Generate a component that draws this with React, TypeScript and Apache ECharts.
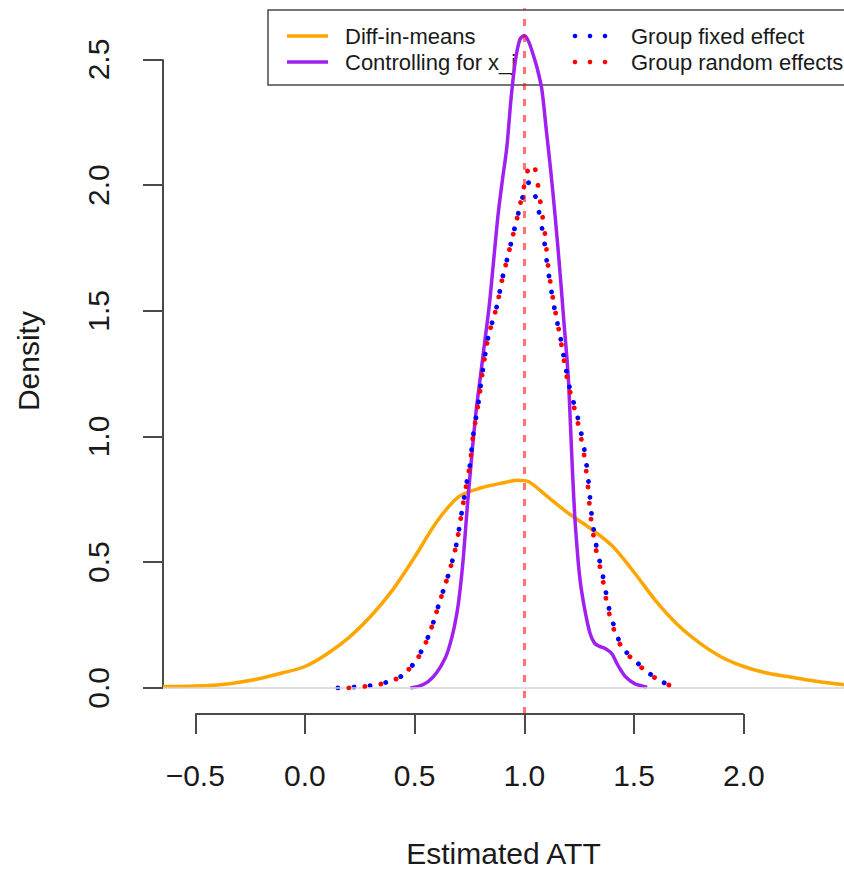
import React, { useEffect, useRef } from "react";
import * as echarts from "echarts";

// ---- data ----
const diffInMeans: [number, number][] = [
  [-0.647, 0.005], [-0.5, 0.007], [-0.4, 0.011], [-0.3, 0.022], [-0.2, 0.038], [-0.1, 0.06],
  [0.0, 0.085], [0.1, 0.135], [0.2, 0.2], [0.3, 0.285], [0.4, 0.39], [0.5, 0.52],
  [0.6, 0.66], [0.7, 0.76], [0.8, 0.795], [0.9, 0.815], [0.97, 0.826], [1.02, 0.82],
  [1.1, 0.765], [1.2, 0.695], [1.3, 0.635], [1.4, 0.565], [1.5, 0.46], [1.6, 0.345],
  [1.7, 0.25], [1.8, 0.178], [1.9, 0.122], [2.0, 0.085], [2.1, 0.06], [2.2, 0.045],
  [2.3, 0.03], [2.4, 0.018], [2.457, 0.012],
];

const controlling: [number, number][] = [
  [0.48, 0.0], [0.52, 0.007], [0.56, 0.024], [0.6, 0.06], [0.64, 0.12], [0.66, 0.17],
  [0.68, 0.24], [0.7, 0.34], [0.72, 0.5], [0.74, 0.72], [0.76, 0.92], [0.78, 1.1],
  [0.8, 1.24], [0.82, 1.38], [0.84, 1.52], [0.86, 1.7], [0.88, 1.88], [0.9, 2.02],
  [0.92, 2.15], [0.94, 2.35], [0.96, 2.5], [0.98, 2.58], [1.0, 2.595], [1.02, 2.57],
  [1.04, 2.52], [1.06, 2.46], [1.08, 2.38], [1.1, 2.22], [1.12, 2.06], [1.14, 1.88],
  [1.16, 1.68], [1.18, 1.46], [1.2, 1.24], [1.21, 1.05], [1.22, 0.85], [1.23, 0.68],
  [1.24, 0.56], [1.25, 0.46], [1.26, 0.39], [1.28, 0.29], [1.3, 0.215], [1.32, 0.178],
  [1.34, 0.166], [1.36, 0.16], [1.38, 0.15], [1.4, 0.135], [1.42, 0.1], [1.44, 0.07],
  [1.46, 0.045], [1.5, 0.018], [1.56, 0.002],
];

const fixedEffect: [number, number][] = [
  [0.15, 0.0], [0.2, 0.002], [0.25, 0.005], [0.3, 0.009], [0.35, 0.017], [0.4, 0.03],
  [0.44, 0.047], [0.49, 0.09], [0.53, 0.145], [0.56, 0.2], [0.585, 0.26], [0.606, 0.32],
  [0.63, 0.386], [0.652, 0.445], [0.67, 0.5], [0.69, 0.57], [0.715, 0.7], [0.738, 0.82],
  [0.752, 0.886], [0.766, 1.0], [0.79, 1.13], [0.81, 1.26], [0.834, 1.39], [0.852, 1.45],
  [0.875, 1.52], [0.9, 1.63], [0.92, 1.7], [0.945, 1.79], [0.97, 1.88], [0.995, 1.96],
  [1.02, 2.01], [1.045, 1.97], [1.065, 1.9], [1.09, 1.78], [1.105, 1.68], [1.135, 1.52],
  [1.165, 1.39], [1.205, 1.2], [1.245, 1.07], [1.275, 0.94], [1.295, 0.8], [1.305, 0.7],
  [1.327, 0.57], [1.358, 0.445], [1.385, 0.32], [1.405, 0.256], [1.427, 0.197],
  [1.462, 0.145], [1.517, 0.098], [1.567, 0.059], [1.63, 0.024], [1.67, 0.004],
];

const randomEffects: [number, number][] = [
  [0.2, 0.0], [0.25, 0.004], [0.3, 0.008], [0.35, 0.016], [0.4, 0.03], [0.44, 0.047],
  [0.49, 0.09], [0.533, 0.145], [0.56, 0.2], [0.585, 0.26], [0.606, 0.32], [0.63, 0.386],
  [0.652, 0.445], [0.67, 0.5], [0.69, 0.57], [0.715, 0.7], [0.738, 0.82], [0.752, 0.886],
  [0.766, 1.0], [0.79, 1.13], [0.81, 1.26], [0.834, 1.39], [0.852, 1.45], [0.875, 1.52],
  [0.9, 1.63], [0.92, 1.7], [0.945, 1.79], [0.97, 1.88], [0.995, 1.98], [1.02, 2.07],
  [1.04, 2.085], [1.058, 2.02], [1.075, 1.92], [1.095, 1.8], [1.108, 1.68], [1.13, 1.55],
  [1.16, 1.41], [1.2, 1.21], [1.24, 1.07], [1.27, 0.94], [1.29, 0.8], [1.3, 0.7],
  [1.322, 0.57], [1.354, 0.445], [1.38, 0.32], [1.4, 0.256], [1.422, 0.197],
  [1.458, 0.145], [1.513, 0.098], [1.563, 0.059], [1.627, 0.024], [1.67, 0.008], [1.72, 0.0],
];

const xTicks = [-0.5, 0, 0.5, 1, 1.5, 2];
const yTicks = [0, 0.5, 1, 1.5, 2, 2.5];
const legendLeft = ["Diff-in-means", "Controlling for x_j"];
const legendRight = ["Group fixed effect", "Group random effects"];

const X_MIN = -0.647;
const X_MAX = 2.457;
const Y_MIN = -0.104;
const Y_MAX = 2.704;

const FONT = "'Liberation Sans', Arial, Helvetica, sans-serif";
const AXIS_COLOR = "#4a4a4a";
const TEXT_COLOR = "#1a1a1a";

const COLORS = {
  orange: "#FFA500",
  purple: "#A020F0",
  blue: "#0000FF",
  red: "#FF0000",
};

function fmt(v: number): string {
  const s = Math.abs(v).toFixed(1);
  return v < 0 ? "\u2212" + s : s;
}

export default function App() {
  const ref = useRef<HTMLDivElement>(null);

  useEffect(() => {
    if (!ref.current) return;
    const chart = echarts.init(ref.current, null, { renderer: "svg" });

    const dotted = (color: string) => ({
      color,
      width: 4.8,
      type: [0.1, 16] as any,
      cap: "round" as any,
    });

    const legendGraphic: any[] = [
      {
        type: "rect",
        shape: { x: 268, y: 10, width: 620, height: 75 },
        style: { fill: "none", stroke: AXIS_COLOR, lineWidth: 1.5 },
        silent: true,
      },
      {
        type: "line",
        shape: { x1: 287, y1: 36, x2: 328, y2: 36 },
        style: { stroke: COLORS.orange, lineWidth: 3.5 },
      },
      {
        type: "line",
        shape: { x1: 287, y1: 62, x2: 328, y2: 62 },
        style: { stroke: COLORS.purple, lineWidth: 3.5 },
      },
      ...[575, 590, 605].map((cx) => ({
        type: "circle",
        shape: { cx, cy: 36, r: 2.3 },
        style: { fill: COLORS.blue },
      })),
      ...[575, 590, 605].map((cx) => ({
        type: "circle",
        shape: { cx, cy: 62, r: 2.3 },
        style: { fill: COLORS.red },
      })),
      ...legendLeft.map((t, i) => ({
        type: "text",
        x: 345,
        y: 36 + i * 26,
        style: {
          text: t,
          fill: TEXT_COLOR,
          font: `22px ${FONT}`,
          verticalAlign: "middle",
          align: "left",
        },
      })),
      ...legendRight.map((t, i) => ({
        type: "text",
        x: 631,
        y: 36 + i * 26,
        style: {
          text: t,
          fill: TEXT_COLOR,
          font: `22px ${FONT}`,
          verticalAlign: "middle",
          align: "left",
        },
      })),
    ];

    chart.setOption({
      animation: false,
      backgroundColor: "#ffffff",
      grid: { left: 163, right: 0, top: 8.2, bottom: 151.6, containLabel: false },
      xAxis: {
        type: "value",
        min: X_MIN,
        max: X_MAX,
        name: "Estimated ATT",
        nameLocation: "middle",
        nameGap: 124,
        nameTextStyle: { fontSize: 30, fontFamily: FONT, color: TEXT_COLOR },
        axisLine: { show: false, onZero: false },
        axisTick: {
          show: true,
          length: 20,
          customValues: xTicks,
          lineStyle: { color: AXIS_COLOR, width: 2 },
        },
        axisLabel: {
          customValues: xTicks,
          formatter: (v: number) => fmt(v),
          fontSize: 30,
          fontFamily: FONT,
          color: TEXT_COLOR,
          margin: 46,
        },
        splitLine: { show: false },
      },
      yAxis: {
        type: "value",
        min: Y_MIN,
        max: Y_MAX,
        name: "Density",
        nameLocation: "middle",
        nameGap: 120,
        nameRotate: 90,
        nameTextStyle: { fontSize: 30, fontFamily: FONT, color: TEXT_COLOR },
        axisLine: { show: false, onZero: false },
        axisTick: {
          show: true,
          length: 20,
          customValues: yTicks,
          lineStyle: { color: AXIS_COLOR, width: 2 },
        },
        axisLabel: {
          customValues: yTicks,
          formatter: (v: number) => fmt(v),
          rotate: 90,
          fontSize: 30,
          fontFamily: FONT,
          color: TEXT_COLOR,
          margin: 50,
        },
        splitLine: { show: false },
      },
      graphic: legendGraphic,
      series: [
        {
          name: "xAxisLine",
          type: "line",
          data: [[xTicks[0], Y_MIN], [xTicks[xTicks.length - 1], Y_MIN]],
          showSymbol: false,
          clip: false,
          silent: true,
          lineStyle: { color: AXIS_COLOR, width: 2 },
          z: 1,
        },
        {
          name: "yAxisLine",
          type: "line",
          data: [[X_MIN, yTicks[0]], [X_MIN, yTicks[yTicks.length - 1]]],
          showSymbol: false,
          clip: false,
          silent: true,
          lineStyle: { color: AXIS_COLOR, width: 2 },
          z: 1,
        },
        {
          name: legendLeft[0],
          type: "line",
          data: diffInMeans,
          showSymbol: false,
          smooth: 0.3,
          lineStyle: { color: COLORS.orange, width: 3.5 },
          markLine: {
            silent: true,
            symbol: ["none", "none"],
            label: { show: false },
            lineStyle: { color: "#d4d4d4", width: 1.5, type: "solid" },
            data: [{ yAxis: 0 }],
          },
          z: 2,
        },
        {
          name: legendLeft[1],
          type: "line",
          data: controlling,
          showSymbol: false,
          smooth: 0.3,
          lineStyle: { color: COLORS.purple, width: 3.5 },
          z: 3,
        },
        {
          name: legendRight[0],
          type: "line",
          data: fixedEffect,
          showSymbol: false,
          smooth: 0.3,
          lineStyle: dotted(COLORS.blue),
          z: 4,
        },
        {
          name: legendRight[1],
          type: "line",
          data: randomEffects,
          showSymbol: false,
          smooth: 0.3,
          lineStyle: dotted(COLORS.red),
          markLine: {
            silent: true,
            symbol: ["none", "none"],
            label: { show: false },
            lineStyle: { color: "rgba(255,0,0,0.55)", width: 3, type: [7, 9] as any },
            data: [{ xAxis: 1 }],
          },
          z: 5,
        },
      ],
    });

    return () => chart.dispose();
  }, []);

  return (
    <div
      ref={ref}
      style={{ position: "fixed", left: 0, top: 0, width: 844, height: 873, background: "#fff" }}
    />
  );
}
